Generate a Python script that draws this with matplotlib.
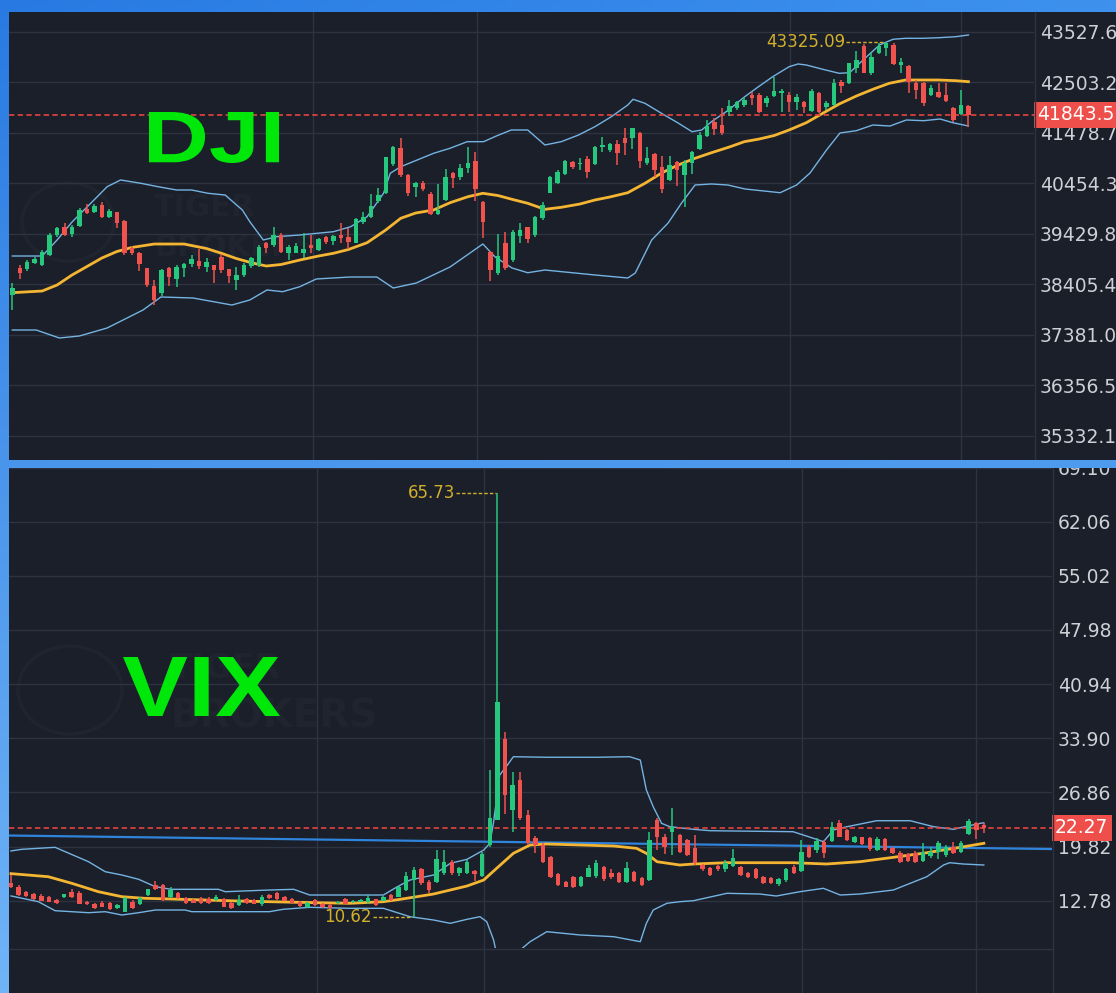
import numpy as np
import matplotlib
matplotlib.use("Agg")
import matplotlib.pyplot as plt
from matplotlib.patches import Rectangle, PathPatch, Ellipse
from matplotlib.textpath import TextPath
from matplotlib.font_manager import FontProperties
from matplotlib.transforms import Affine2D, blended_transform_factory
from matplotlib.lines import Line2D

# ---------------- DATA ----------------
dji_open = [38187, 38741, 38707, 38843, 38795, 38998, 39404, 39573, 39417, 39593,
 39924, 39877, 40012, 39776, 39864, 39688, 39133, 39032, 38728, 38369,
 38221, 38728, 38505, 38728, 38816, 38883, 38762, 38795, 38964, 38707,
 38491, 38593, 38775, 38795, 39235, 39201, 39404, 39045, 39045, 39032,
 39201, 39100, 39370, 39282, 39404, 39370, 39248, 39674, 39762, 40100,
 40263, 40844, 41162, 40621, 40384, 40465, 40235, 39830, 40114, 40668,
 40587, 40756, 40912, 40080, 39066, 38627, 39235, 38897, 39384, 39560,
 39404, 39742, 40263, 40466, 40641, 40891, 40844, 40939, 40844, 41182,
 41128, 41250, 41365, 41365, 41480, 40858, 41047, 40790, 40520, 40891,
 40621, 40858, 41142, 41412, 41703, 41635, 41906, 41973, 42041, 42244,
 42244, 42075, 42223, 42291, 42244, 42108, 42108, 41926, 42291, 42007,
 42041, 42514, 42480, 42785, 43238, 42683, 43089, 43190, 43258, 42852,
 42832, 42494, 42494, 42244, 42311, 42244, 41973, 41858, 42021]
dji_high = [38437, 38795, 38897, 38951, 39100, 39438, 39573, 39640, 39607, 39945,
 40033, 40033, 40080, 39924, 39877, 39708, 39181, 39066, 38741, 38491,
 38707, 38762, 38795, 38843, 38998, 39113, 38931, 38800, 39012, 38721,
 38762, 38829, 38964, 39201, 39269, 39573, 39438, 39201, 39248, 39451,
 39404, 39336, 39384, 39404, 39654, 39539, 39742, 39877, 40235, 40350,
 40993, 41209, 41378, 40634, 40486, 40506, 40283, 40438, 40736, 40688,
 40844, 41182, 41094, 40093, 39086, 39424, 39472, 39505, 39641, 39573,
 39789, 40080, 40601, 40722, 40925, 40905, 40959, 41006, 41209, 41399,
 41263, 41331, 41568, 41581, 41500, 41196, 41074, 41006, 41006, 40912,
 40925, 41115, 41500, 41737, 41770, 41973, 42142, 42129, 42210, 42311,
 42277, 42223, 42616, 42359, 42311, 42264, 42129, 42359, 42305, 42129,
 42561, 42548, 42899, 43143, 43278, 43123, 43292, 43325.09, 43292, 42987,
 42852, 42548, 42514, 42446, 42480, 42480, 41993, 42345, 42041]
dji_low = [37883, 38505, 38680, 38816, 38775, 38978, 39370, 39384, 39356, 39573,
 39830, 39843, 39755, 39755, 39539, 38998, 38998, 38680, 38356, 37984,
 38167, 38369, 38356, 38545, 38762, 38707, 38660, 38424, 38626, 38424,
 38288, 38559, 38728, 38762, 39032, 39167, 39032, 38897, 39032, 38931,
 39032, 39086, 39221, 39201, 39235, 39113, 39235, 39620, 39742, 40046,
 40235, 40803, 40587, 40195, 40181, 40303, 39810, 39810, 40100, 40350,
 40519, 40655, 40100, 39336, 38478, 38593, 38694, 38863, 39235, 39235,
 39370, 39708, 40249, 40438, 40621, 40736, 40722, 40553, 40824, 41094,
 41094, 40824, 41027, 41142, 40756, 40824, 40587, 40263, 40506, 40398,
 39979, 40641, 41128, 41399, 41432, 41432, 41818, 41939, 42007, 42041,
 41872, 42007, 42210, 41906, 41906, 41939, 41872, 41906, 41885, 41939,
 42021, 42291, 42467, 42683, 42683, 42649, 43075, 43035, 42852, 42683,
 42277, 42156, 42021, 42223, 42176, 42108, 41703, 41838, 41601]
dji_close = [38322, 38626, 38863, 38910, 39052, 39404, 39539, 39404, 39559, 39911,
 39843, 39992, 39776, 39897, 39654, 39032, 39032, 38816, 38390, 38085,
 38694, 38559, 38762, 38816, 38910, 38775, 38863, 38694, 38694, 38572,
 38593, 38795, 38931, 39167, 39133, 39404, 39066, 39154, 39181, 39113,
 39133, 39316, 39269, 39384, 39336, 39269, 39722, 39762, 39999, 40215,
 40979, 41196, 40621, 40263, 40452, 40330, 39830, 39911, 40574, 40553,
 40756, 40857, 40330, 39674, 38694, 38978, 38728, 39472, 39505, 39316,
 39776, 40013, 40587, 40689, 40912, 40777, 40871, 40689, 41196, 41230,
 41250, 41060, 41263, 41568, 40912, 40959, 40722, 40330, 40824, 40722,
 40871, 41094, 41432, 41615, 41547, 41466, 42021, 42108, 42142, 42176,
 41906, 42176, 42325, 42325, 42108, 42210, 41993, 42325, 41906, 42075,
 42480, 42426, 42886, 42954, 42697, 43021, 43238, 43292, 42872, 42920,
 42514, 42345, 42088, 42379, 42210, 42129, 41737, 42041, 41843.5]

dji_mid_idx = [0, 4, 6, 8, 10, 12, 14, 16, 19, 23, 26, 28, 30, 32, 34, 36, 38.5, 41, 43, 45,
 47.5, 50, 52, 54, 56.4, 58.6, 61, 63, 65, 67, 69, 71.3, 73.5, 76, 78, 80, 82.4, 84.7, 87, 89,
 91.4, 93.6, 96, 98, 100, 102, 104, 106.3, 108.5, 110.7, 113, 115.2, 117.4, 119.6, 122, 124, 126.3, 128]
dji_mid = [38234, 38268, 38390, 38593, 38765, 38938, 39069, 39151, 39221, 39221,
 39130, 39033, 38927, 38842, 38775, 38806, 38897, 38978, 39033, 39110,
 39248, 39506, 39743, 39850, 39911, 40059, 40181, 40250, 40205, 40124,
 40047, 39925, 39966, 40033, 40114, 40175, 40262, 40453, 40668, 40814,
 40960, 41073, 41189, 41297, 41351, 41422, 41534, 41682, 41873, 42061,
 42223, 42359, 42481, 42548, 42548, 42548, 42534, 42514]
dji_up_idx = [0, 4, 6, 8, 10.5, 12.7, 14.5, 17.2, 19.5, 22, 24, 26.2, 28.5, 30.8, 31.8, 33.6, 35.4, 38.5, 40.8, 43,
 45.3, 47.5, 49.7, 50.6, 52, 54.2, 56.4, 58.6, 60.9, 63.1, 64.8, 66.8, 69, 71.3, 73.5, 75.8, 78, 80.2, 82.4, 83.1,
 84.7, 86.9, 89.2, 91, 92.3, 93.6, 95.9, 98, 99.6, 101.8, 104, 105.2, 106.3, 108.5, 110.7, 112.1, 113.9, 116.1, 117.9, 119.6,
 121.9, 124.1, 126.3, 128]
dji_up = [38978, 38978, 39303, 39668, 40047, 40384, 40520, 40453, 40384, 40317,
 40317, 40250, 40215, 39911, 39674, 39303, 39370, 39404, 39439, 39471,
 39572, 39775, 40250, 40656, 40789, 40925, 41061, 41163, 41297, 41297,
 41412, 41534, 41534, 41230, 41297, 41432, 41601, 41804, 42041, 42157,
 42075, 41873, 41670, 41499, 41534, 41702, 41940, 42203, 42380, 42615,
 42818, 42873, 42852, 42765, 42684, 42696, 42954, 43258, 43374, 43394,
 43394, 43406, 43426, 43461]
dji_lo_idx = [0, 3.2, 6.3, 9, 12.7, 17.5, 19.9, 24.2, 29.4, 31.8, 34.1, 36.2, 38.5, 40.7, 45.2, 48.8, 51, 54.1, 58.6, 63,
 64.6, 66.9, 69, 71.3, 78, 82.4, 83.4, 85.6, 87.8, 89.6, 91.4, 93.6, 95.8, 98.1, 102.8, 105, 106.8, 109, 110.8, 113,
 115.2, 117.5, 119.7, 122, 124.2, 125.9, 128]
dji_lo = [37477, 37477, 37315, 37356, 37518, 37883, 38147, 38126, 37984, 38086,
 38289, 38254, 38356, 38512, 38552, 38552, 38329, 38431, 38755, 39222,
 38964, 38735, 38639, 38694, 38593, 38532, 38633, 39303, 39648, 40053,
 40418, 40439, 40418, 40337, 40262, 40418, 40662, 41128, 41473, 41520,
 41635, 41615, 41737, 41722, 41757, 41682, 41615]

vix_open = [15.12, 14.60, 13.95, 13.65, 13.39, 13.22, 12.87, 13.22, 13.95, 13.82,
 12.65, 12.35, 12.52, 12.52, 11.79, 11.35, 12.65, 12.35, 13.52, 14.82,
 14.82, 13.22, 13.74, 13.09, 12.87, 13.09, 13.00, 12.87, 12.96, 12.44,
 12.22, 12.96, 12.87, 12.35, 13.52, 13.74, 13.30, 12.96, 12.65, 11.92,
 12.87, 12.35, 12.22, 12.44, 12.96, 12.61, 12.65, 12.65, 12.96, 12.78,
 13.52, 13.30, 14.17, 15.47, 16.86, 15.25, 15.25, 16.34, 17.85, 16.34,
 16.34, 16.68, 16.00, 20.02, 23.27, 33.76, 24.57, 28.47, 23.92, 20.89,
 20.02, 18.50, 16.25, 15.25, 15.90, 14.69, 15.90, 15.99, 17.12, 16.43,
 16.34, 15.26, 16.55, 15.69, 15.47, 23.27, 21.10, 21.76, 21.32, 20.67,
 19.59, 17.42, 16.99, 17.29, 16.86, 17.29, 17.20, 16.42, 16.86, 15.82,
 15.69, 14.95, 15.47, 17.12, 16.68, 19.81, 19.37, 20.46, 20.58, 22.84,
 21.97, 20.46, 21.02, 20.89, 19.37, 20.76, 19.59, 19.02, 18.85, 19.02,
 17.98, 18.59, 19.16, 18.72, 19.81, 19.16, 21.45, 22.93, 22.60]
vix_high = [16.12, 14.80, 14.10, 13.80, 13.60, 13.40, 13.00, 13.70, 14.30, 14.00,
 12.75, 12.45, 12.70, 12.60, 12.35, 13.30, 12.90, 13.20, 14.35, 15.30,
 15.00, 14.50, 13.90, 13.20, 13.00, 13.20, 13.30, 13.50, 13.10, 12.60,
 13.50, 13.10, 13.00, 13.52, 13.60, 13.90, 13.40, 13.10, 12.80, 12.60,
 13.00, 12.45, 12.30, 12.75, 13.10, 12.90, 12.95, 13.52, 13.05, 13.40,
 13.60, 14.69, 16.55, 17.20, 16.99, 15.47, 19.37, 19.37, 18.07, 17.20,
 18.07, 16.77, 19.10, 29.77, 65.73, 34.76, 29.56, 29.56, 24.57, 21.19,
 20.24, 18.60, 16.40, 15.40, 16.00, 16.00, 17.42, 18.07, 17.30, 16.86,
 16.50, 17.85, 16.70, 15.80, 21.76, 23.50, 21.50, 24.79, 21.40, 20.80,
 21.32, 17.60, 17.10, 17.40, 18.07, 19.46, 17.30, 16.55, 16.99, 16.00,
 15.80, 15.69, 16.99, 17.42, 20.67, 20.00, 20.89, 20.67, 23.06, 23.27,
 22.10, 21.19, 21.10, 21.00, 21.02, 20.90, 19.70, 19.20, 19.00, 19.20,
 20.32, 19.81, 20.58, 20.00, 20.46, 20.50, 23.36, 23.06, 22.93]
vix_low = [14.39, 13.40, 13.30, 12.90, 12.70, 12.55, 12.40, 13.10, 13.10, 12.30,
 12.25, 11.70, 11.90, 11.60, 11.70, 11.30, 11.70, 12.20, 13.45, 14.20,
 12.80, 13.10, 13.00, 12.35, 12.45, 12.35, 12.40, 12.80, 11.90, 11.70,
 12.10, 12.30, 12.30, 12.09, 13.00, 12.90, 12.70, 12.35, 12.00, 11.85,
 12.10, 11.85, 11.70, 12.35, 12.30, 12.50, 12.55, 12.35, 12.15, 12.70,
 12.80, 13.22, 14.08, 10.62, 14.82, 13.74, 15.12, 16.12, 16.12, 16.00,
 16.25, 15.38, 15.90, 19.81, 23.27, 24.00, 21.76, 23.27, 20.02, 18.94,
 17.72, 15.69, 14.69, 14.50, 14.40, 14.60, 15.80, 15.69, 15.40, 15.56,
 15.10, 15.10, 15.20, 14.70, 15.40, 19.37, 18.80, 18.72, 18.94, 18.60,
 17.42, 16.70, 16.00, 16.70, 16.55, 17.12, 16.00, 15.70, 15.56, 15.00,
 15.00, 14.69, 15.26, 16.25, 16.55, 18.30, 19.02, 18.29, 20.46, 21.02,
 20.50, 20.24, 20.00, 19.30, 19.29, 19.20, 18.90, 17.70, 17.85, 17.70,
 17.85, 18.29, 18.16, 18.50, 18.85, 19.00, 21.32, 20.76, 21.54]
vix_close = [14.52, 13.52, 13.39, 12.96, 12.78, 12.65, 12.44, 13.61, 13.22, 12.35,
 12.35, 11.79, 12.00, 11.66, 12.22, 13.09, 11.79, 13.09, 14.26, 14.26,
 12.87, 14.17, 13.09, 12.44, 12.52, 12.44, 12.45, 13.22, 12.00, 11.79,
 12.87, 12.44, 12.35, 13.30, 13.09, 12.96, 12.78, 12.44, 12.09, 12.44,
 12.22, 11.92, 11.79, 12.65, 12.35, 12.78, 12.87, 13.09, 12.22, 13.30,
 12.87, 14.52, 15.99, 16.77, 15.04, 14.17, 18.16, 17.85, 16.34, 16.99,
 17.85, 16.25, 18.90, 23.49, 38.66, 26.52, 27.83, 23.49, 20.33, 20.02,
 17.85, 15.90, 14.82, 14.60, 14.52, 15.90, 16.99, 17.64, 15.56, 15.82,
 15.26, 16.99, 15.38, 14.82, 20.67, 21.11, 19.70, 22.41, 19.16, 18.72,
 17.64, 16.86, 16.12, 16.86, 17.72, 18.29, 16.12, 15.82, 15.69, 15.12,
 15.12, 15.56, 16.86, 16.34, 19.16, 18.51, 20.58, 19.02, 22.41, 21.11,
 20.67, 21.02, 20.15, 19.46, 20.76, 19.37, 19.02, 17.85, 17.98, 17.85,
 19.16, 19.16, 20.32, 19.72, 19.02, 20.24, 23.19, 21.97, 22.27]

vix_mid_idx = [0, 4.9, 8, 11.5, 14.6, 17.6, 21.1, 25.5, 29.9, 34, 40.2, 44.6, 49, 51.2, 53.4, 55.6, 57.8, 60, 62.2, 63.9,
 66.1, 68.3, 70.5, 74.9, 79.3, 82.3, 83.6, 85, 88, 89.8, 94.2, 98.5, 102.9, 107.3, 111.7, 116.1, 120.5, 124.9, 128]
vix_mid = [16.30, 15.90, 15.04, 13.95, 13.30, 13.09, 13.00, 12.87, 12.74, 12.65,
 12.52, 12.44, 12.65, 12.96, 13.30, 13.65, 14.17, 14.69, 15.47, 16.99,
 18.94, 20.02, 20.15, 20.02, 19.89, 19.59, 18.94, 17.85, 17.42, 17.55,
 17.72, 17.72, 17.72, 17.55, 17.85, 18.42, 19.02, 19.72, 20.24]
vix_up_idx = [0, 1.4, 5.8, 10.2, 12.4, 14.6, 16.8, 19, 21.1, 27.3, 28.2, 34, 37.2, 39.3, 44.6, 49, 50.7, 52.5, 55.6, 57.8,
 60, 62.2, 63, 63.5, 64.3, 65.3, 66.1, 70.5, 77.1, 81.4, 82.8, 83.6, 84.5, 85.6, 86.7, 89.8, 92, 102.9, 106, 106.9,
 108.2, 110, 113.9, 118.3, 121.4, 124, 127.5, 128]
vix_up = [19.25, 19.46, 19.72, 17.85, 16.55, 16.12, 15.56, 14.60, 14.26, 14.26,
 13.95, 14.17, 14.26, 13.52, 13.52, 13.52, 14.52, 15.47, 16.12, 17.64,
 18.16, 19.37, 20.24, 23.00, 29.12, 30.40, 31.50, 31.43, 31.43, 31.50,
 31.07, 27.17, 25.00, 22.84, 22.40, 22.06, 21.88, 21.75, 20.76, 20.45,
 21.97, 22.40, 23.18, 23.18, 22.40, 22.06, 22.84, 22.90]
vix_lo_idx = [0, 3.6, 5.8, 10.2, 12.4, 14.6, 16.8, 19, 22.9, 23.8, 34, 35.8, 39.3, 44.6, 49, 52.5, 55.6, 57.8, 60, 61.7,
 62.6, 63.5, 64.5, 66, 67, 68.3, 70.5, 74.9, 79.3, 82.8, 83.6, 84.5, 86.3, 88, 89.8, 94.2, 98.5, 100.7, 103.8, 106.9,
 109.1, 111.7, 116.1, 120.5, 122.7, 123.5, 125.3, 128]
vix_lo = [13.40, 12.65, 11.48, 11.22, 11.35, 10.92, 11.22, 11.57, 11.57, 11.35,
 11.35, 11.66, 11.92, 11.79, 11.79, 10.70, 10.27, 9.84, 10.36, 10.70,
 10.05, 7.67, 3.00, 2.00, 6.37, 7.45, 8.75, 8.32, 8.10, 7.45,
 9.84, 11.57, 12.44, 12.65, 12.78, 13.74, 13.65, 13.39, 13.95, 14.39,
 13.52, 13.65, 14.17, 15.90, 17.42, 17.72, 17.55, 17.42]

vix_trend_pts = [(0, 21.25), (136, 19.51)]

dji_ticks = [43527.6, 42503.2, 41478.7, 40454.3, 39429.8, 38405.4, 37381.0, 36356.5, 35332.1]
vix_ticks = [69.10, 62.06, 55.02, 47.98, 40.94, 33.90, 26.86, 19.82, 12.78]
month_grid = [40.2, 62.2, 104.05, 127.0]

# ---------------- STYLE ----------------
W, H = 1116, 993
DARK = '#1b1f2a'
GRID = '#2e3340'
UP = '#26c87e'
DN = '#f0524d'
BAND = '#74b3e2'
MID = '#f4b632'
LABEL = '#cdd0d5'
ANNO = '#d2b02a'
BIG = '#00e70a'
WM = '#20242f'

for arr in (dji_open, dji_high, dji_low, dji_close, vix_open, vix_high, vix_low, vix_close):
    assert len(arr) == 129
assert len(dji_mid_idx) == len(dji_mid) and len(dji_up_idx) == len(dji_up) and len(dji_lo_idx) == len(dji_lo)
assert len(vix_mid_idx) == len(vix_mid) and len(vix_up_idx) == len(vix_up) and len(vix_lo_idx) == len(vix_lo)

fig = plt.figure(figsize=(W / 100, H / 100), dpi=100)


def gradient(y0, y1, n=200):
    yy, xx = np.mgrid[y0:y1:complex(n), 0:1:complex(n)]
    tl = np.array([40, 122, 226]); tr = np.array([62, 146, 238])
    bl = np.array([112, 180, 247]); br = np.array([96, 166, 242])
    y = yy[..., None]; x = xx[..., None]
    return (tl * (1 - y) * (1 - x) + tr * (1 - y) * x + bl * y * (1 - x) + br * y * x) / 255


bg = fig.add_axes([0, 0, 1, 1], zorder=-10)
bg.imshow(gradient(0, 1), aspect='auto', extent=[0, 1, 0, 1], origin='upper')
bg.axis('off')

fig.add_artist(Rectangle((9 / W, 1 - 460 / H), 1 - 9 / W, 448 / H, transform=fig.transFigure,
                         facecolor=DARK, edgecolor='none', zorder=-5))
fig.add_artist(Rectangle((9 / W, 0), 1 - 9 / W, 525 / H, transform=fig.transFigure,
                         facecolor=DARK, edgecolor='none', zorder=-5))

ax1 = fig.add_axes([9 / W, 1 - 460 / H, 1025 / W, 448 / H], zorder=1)
ax2 = fig.add_axes([9 / W, 1 - 948 / H, 1043 / W, 482 / H], zorder=1)
ax3 = fig.add_axes([9 / W, 0, 1043 / W, 45 / H], zorder=1)


def style(ax, ticks, labels, xlim, ylim):
    ax.set_facecolor(DARK)
    for s in ax.spines.values():
        s.set_visible(False)
    ax.set_xlim(*xlim)
    ax.set_ylim(*ylim)
    ax.set_xticks(month_grid)
    ax.set_xticklabels([])
    ax.tick_params(axis='x', length=0)
    if ticks is not None:
        ax.set_yticks(ticks)
        ax.set_yticklabels(labels, family='DejaVu Sans')
        ax.yaxis.tick_right()
        ax.tick_params(axis='y', length=0, pad=4.3, labelsize=13.5, labelcolor=LABEL)
        ax.grid(True, color=GRID, lw=1.0)
    else:
        ax.set_yticks([])
        ax.grid(True, axis='x', color=GRID, lw=1.0)
    ax.set_axisbelow(True)


style(ax1, dji_ticks, [f'{v:.1f}' for v in dji_ticks], (-0.44, 136.78), (34840.4, 43927.2))
style(ax2, vix_ticks, [f'{v:.2f}' for v in vix_ticks], (-0.26, 136.97), (6.63, 69.30))
style(ax3, None, None, (-0.26, 136.97), (0, 1))


def candles(ax, o, h, l, c, minh):
    o, h, l, c = map(np.asarray, (o, h, l, c))
    idx = np.arange(len(o))
    cols = np.where(c >= o, UP, DN)
    ax.vlines(idx, l, h, colors=cols, lw=1.1, zorder=3)
    body = np.maximum(np.abs(c - o), minh)
    ax.bar(idx, body, bottom=np.minimum(o, c), width=0.6, color=cols, linewidth=0, zorder=4)


# bands
ax1.plot(dji_up_idx, dji_up, color=BAND, lw=1.0, zorder=2)
ax1.plot(dji_lo_idx, dji_lo, color=BAND, lw=1.0, zorder=2)
ax1.plot(dji_mid_idx, dji_mid, color=MID, lw=2.0, zorder=2.2)
ax2.plot(vix_up_idx, vix_up, color=BAND, lw=1.0, zorder=2)
ax2.plot(vix_lo_idx, vix_lo, color=BAND, lw=1.0, zorder=2)
ax2.plot(vix_mid_idx, vix_mid, color=MID, lw=2.0, zorder=2.2)
ax2.axline(vix_trend_pts[0], vix_trend_pts[1], color='#2f84dc', lw=1.6, zorder=2.1)

candles(ax1, dji_open, dji_high, dji_low, dji_close, 20)
candles(ax2, vix_open, vix_high, vix_low, vix_close, 0.13)

# last price lines and boxes
for ax, last, fmt, xpix in ((ax1, dji_close[-1], '{:.1f}', 1037), (ax2, vix_close[-1], '{:.2f}', 1055)):
    ax.axhline(last, color='#e8443f', lw=1.2, ls=(0, (3.2, 2.0)), zorder=2.5)
    tr = blended_transform_factory(fig.transFigure, ax.transData)
    ax.text(xpix / W, last, fmt.format(last), transform=tr, ha='left', va='center',
            color='white', fontsize=13.5, family='DejaVu Sans', clip_on=False, zorder=9,
            bbox=dict(boxstyle='square,pad=0.18', fc='#ee4f4a', ec='none'))


# extreme annotations
def extreme(ax, i, v, label, gap):
    ax.text(i - gap, v, label, ha='right', va='center', color=ANNO, fontsize=12,
            family='DejaVu Sans', zorder=6)
    ax.plot([i - gap + 0.1, i - 0.2], [v, v], color=ANNO, lw=1.0, ls=(0, (2.5, 1.5)), zorder=6)


hi = int(np.argmax(dji_high))
extreme(ax1, hi, dji_high[hi], f'{dji_high[hi]:.2f}', 5.5)
vh = int(np.argmax(vix_high))
extreme(ax2, vh, vix_high[vh], f'{vix_high[vh]:.2f}', 5.6)
vl = int(np.argmin(vix_low))
extreme(ax2, vl, vix_low[vl], f'{vix_low[vl]:.2f}', 5.5)

# watermarks (very faint)
ax1.add_patch(Ellipse((68 / W, 1 - 222 / H), 92 / W, 78 / H, transform=fig.transFigure,
                      fill=False, ec=WM, lw=2.5, zorder=0.5))
ax1.text(154 / W, 1 - 216 / H, 'TIGER', transform=fig.transFigure, color=WM, fontsize=22,
         fontweight='bold', family='DejaVu Sans', zorder=0.5)
ax1.text(154 / W, 1 - 256 / H, 'BROKERS', transform=fig.transFigure, color=WM, fontsize=22,
         fontweight='bold', family='DejaVu Sans', zorder=0.5)
ax2.add_patch(Ellipse((70 / W, 1 - 690 / H), 104 / W, 88 / H, transform=fig.transFigure,
                      fill=False, ec=WM, lw=2.5, zorder=0.5))
ax2.text(170 / W, 1 - 678 / H, 'TIGER', transform=fig.transFigure, color=WM, fontsize=24,
         fontweight='bold', family='DejaVu Sans', zorder=0.5)
ax2.text(170 / W, 1 - 728 / H, 'BROKERS', transform=fig.transFigure, color=WM, fontsize=28,
         fontweight='bold', family='DejaVu Sans', zorder=0.5)

# separators
fig.add_artist(Line2D([1034.5 / W] * 2, [1 - 460 / H, 1 - 12 / H], transform=fig.transFigure,
                      color=GRID, lw=1.0, zorder=3))
fig.add_artist(Line2D([1052.5 / W] * 2, [0, 1 - 468 / H], transform=fig.transFigure,
                      color=GRID, lw=1.0, zorder=3))
fig.add_artist(Line2D([9 / W, 1052.5 / W], [1 - 948.5 / H] * 2, transform=fig.transFigure,
                      color=GRID, lw=1.0, zorder=3))

sep = fig.add_axes([0, 1 - 468 / H, 1, 8 / H], zorder=10)
sep.imshow(gradient(460 / H, 468 / H, 20), aspect='auto', extent=[0, 1, 0, 1], origin='upper')
sep.axis('off')


# big stretched labels
def big_label(s, x0, y_top, x1, y_bot):
    tp = TextPath((0, 0), s, size=100, prop=FontProperties(family='Liberation Sans', weight='bold'))
    ext = tp.get_extents()
    sx = (x1 - x0) / ext.width
    sy = (y_bot - y_top) / ext.height
    tr = Affine2D().translate(-ext.x0, -ext.y0).scale(sx, sy).translate(x0, H - y_bot)
    fig.add_artist(PathPatch(tp, transform=tr, facecolor=BIG, edgecolor='none', zorder=8))


big_label('DJI', 149, 112, 279, 163)
big_label('VIX', 123, 657, 280, 716)

fig.savefig('out.png', dpi=100)
